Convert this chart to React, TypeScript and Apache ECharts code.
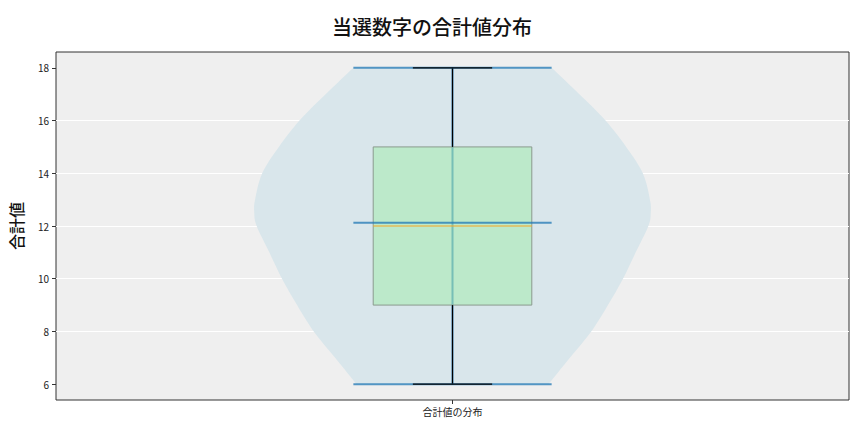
import React, { useEffect, useRef } from 'react';
import * as echarts from 'echarts';

// violin outline: value -> half width (x-axis units)
const violinValues = [6, 7, 8, 9, 10, 11, 12, 12.5, 13, 14, 15, 16, 17, 18];
const violinHalfWidths = [0.121, 0.148, 0.175, 0.196, 0.215, 0.231, 0.247, 0.25, 0.249, 0.24, 0.219, 0.193, 0.16, 0.125];

// box plot stats
const boxStats = { min: 6, q1: 9, median: 12, q3: 15, max: 18 };
const violinMean = 12.12;

const yTicks = [6, 8, 10, 12, 14, 16, 18];
const categoryLabel = '合計値の分布';

// catmull-rom through screen points, only for drawing a smooth outline
const smoothSide = (pts: number[][], steps = 8) => {
  const out: number[][] = [];
  for (let i = 0; i < pts.length - 1; i++) {
    const p0 = pts[Math.max(i - 1, 0)];
    const p1 = pts[i];
    const p2 = pts[i + 1];
    const p3 = pts[Math.min(i + 2, pts.length - 1)];
    for (let s = 0; s < steps; s++) {
      const t = s / steps;
      const t2 = t * t;
      const t3 = t2 * t;
      const f = (a: number, b: number, c: number, d: number) =>
        0.5 * (2 * b + (-a + c) * t + (2 * a - 5 * b + 4 * c - d) * t2 + (-a + 3 * b - 3 * c + d) * t3);
      out.push([f(p0[0], p1[0], p2[0], p3[0]), f(p0[1], p1[1], p2[1], p3[1])]);
    }
  }
  out.push(pts[pts.length - 1]);
  return out;
};

const App: React.FC = () => {
  const chartRef = useRef<HTMLDivElement>(null);

  useEffect(() => {
    if (!chartRef.current) return;
    const chart = echarts.init(chartRef.current, undefined, { renderer: 'svg' });

    const renderItem = (params: any, api: any) => {
      const pos = 1;
      const pt = (x: number, y: number) => api.coord([x, y]);
      const left = smoothSide(violinValues.map((v, i) => pt(pos - violinHalfWidths[i], v)));
      const right = smoothSide(violinValues.map((v, i) => pt(pos + violinHalfWidths[i], v))).reverse();
      const blue = 'rgba(31,119,180,0.75)';
      const line = (x1: number, x2: number, y1: number, y2: number, stroke: string, w: number) => {
        const a = pt(x1, y1);
        const b = pt(x2, y2);
        return {
          type: 'line',
          shape: { x1: a[0], y1: a[1], x2: b[0], y2: b[1] },
          style: { stroke, lineWidth: w }
        };
      };
      const boxTL = pt(pos - 0.1, boxStats.q3);
      const boxBR = pt(pos + 0.1, boxStats.q1);
      return {
        type: 'group',
        children: [
          {
            type: 'polygon',
            shape: { points: [...left, ...right] },
            style: { fill: '#d9e6eb' }
          },
          line(pos, pos, boxStats.min, boxStats.max, blue, 2),
          {
            type: 'rect',
            shape: { x: boxTL[0], y: boxTL[1], width: boxBR[0] - boxTL[0], height: boxBR[1] - boxTL[1] },
            style: { fill: 'rgba(160,235,170,0.5)', stroke: '#8a9a8d', lineWidth: 1 }
          },
          line(pos, pos, boxStats.q3, boxStats.max, '#000', 1.2),
          line(pos, pos, boxStats.min, boxStats.q1, '#000', 1.2),
          line(pos - 0.125, pos + 0.125, boxStats.max, boxStats.max, blue, 2),
          line(pos - 0.125, pos + 0.125, boxStats.min, boxStats.min, blue, 2),
          line(pos - 0.05, pos + 0.05, boxStats.max, boxStats.max, '#000', 1.2),
          line(pos - 0.05, pos + 0.05, boxStats.min, boxStats.min, '#000', 1.2),
          line(pos - 0.125, pos + 0.125, violinMean, violinMean, blue, 2),
          line(pos - 0.1, pos + 0.1, boxStats.median, boxStats.median, '#f5a623', 1.2)
        ]
      };
    };

    chart.setOption({
      animation: false,
      textStyle: { fontFamily: '"Noto Sans CJK JP", "DejaVu Sans", sans-serif' },
      title: {
        text: '当選数字の合計値分布',
        left: 'center',
        top: 11,
        textStyle: { fontSize: 20, fontWeight: 500, color: '#111' }
      },
      grid: {
        left: 54,
        right: 15,
        top: 52,
        bottom: 32,
        show: true,
        backgroundColor: '#efefef',
        borderColor: '#333',
        borderWidth: 1
      },
      xAxis: {
        type: 'value',
        min: 0.5,
        max: 1.5,
        interval: 0.5,
        axisLine: { show: false },
        axisTick: { show: true, customValues: [1], length: 4, lineStyle: { color: '#333' } },
        axisLabel: {
          customValues: [1],
          formatter: () => categoryLabel,
          fontSize: 10,
          color: '#222',
          margin: 6
        },
        splitLine: { show: true, showMinLine: false, showMaxLine: false, lineStyle: { color: '#fff', width: 1 } }
      },
      yAxis: {
        type: 'value',
        min: 5.4,
        max: 18.6,
        splitNumber: 6,
        minInterval: 2,
        maxInterval: 2,
        name: '合計値',
        nameLocation: 'middle',
        nameGap: 32,
        nameTextStyle: { fontSize: 16, fontWeight: 500, color: '#111' },
        axisLine: { show: false },
        axisTick: { show: true, customValues: yTicks, length: 4, lineStyle: { color: '#333' } },
        axisLabel: { customValues: yTicks, fontSize: 10, color: '#222', margin: 7 },
        splitLine: { show: true, showMinLine: false, showMaxLine: false, lineStyle: { color: '#fff', width: 1 } }
      },
      series: [
        {
          type: 'custom',
          renderItem,
          data: [[1, boxStats.median]],
          silent: true,
          clip: true
        }
      ]
    });

    return () => {
      chart.dispose();
    };
  }, []);

  return (
    <div
      ref={chartRef}
      style={{ position: 'fixed', left: 0, top: 0, width: 864, height: 432, background: '#fff' }}
    />
  );
};

export default App;
